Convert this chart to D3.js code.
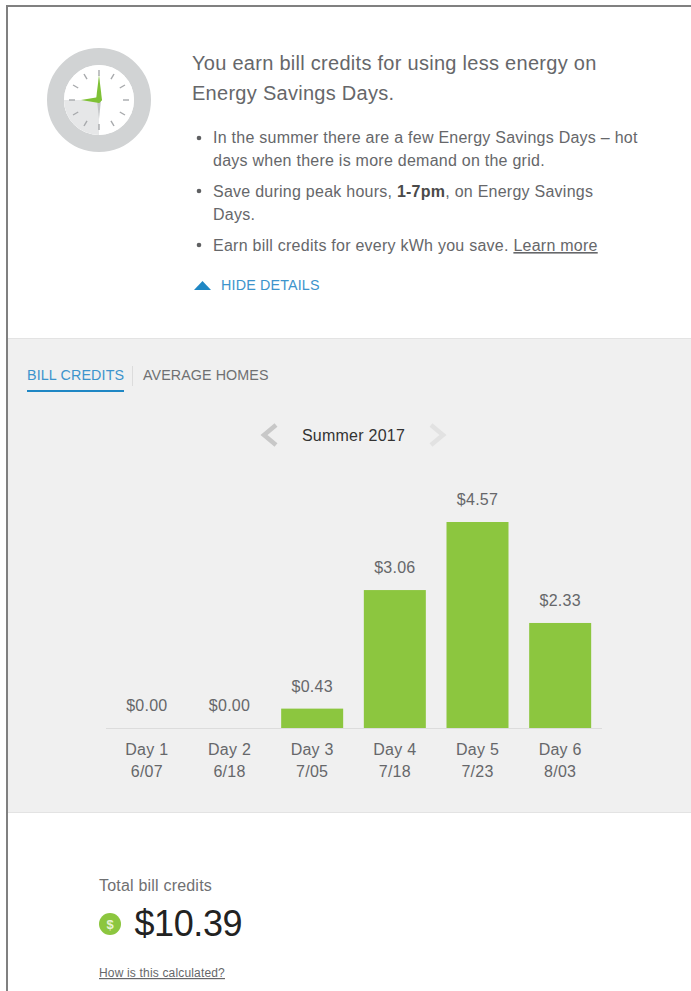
<!DOCTYPE html>
<html><head><meta charset="utf-8">
<script src="https://cdn.jsdelivr.net/npm/d3@7"></script>
<style>
html,body{margin:0;padding:0;background:#fff;overflow:hidden}
svg{display:block;font-family:"Liberation Sans",Arial,sans-serif}
</style></head><body><svg id="c" width="691" height="991"></svg>
<script>
const dayLabels=["Day 1","Day 2","Day 3","Day 4","Day 5","Day 6"];
const dates=["6/07","6/18","7/05","7/18","7/23","8/03"];
const credits=[0,0,0.43,3.06,4.57,2.33];
const total="$10.39";
const ink="#66676a";
const svg=d3.select("#c");
const txt=(x,y,s,size,fill,anchor,ls)=>svg.append("text").attr("x",x).attr("y",y).attr("font-size",size).attr("fill",fill).attr("text-anchor",anchor||"start").attr("letter-spacing",ls===undefined?0.25:ls).text(s);

svg.append("rect").attr("x",0).attr("y",0).attr("width",691).attr("height",991).attr("fill","#fff");
svg.append("rect").attr("x",8).attr("y",339).attr("width",683).attr("height",473).attr("fill","#f0f0f0");
svg.append("line").attr("x1",8).attr("x2",691).attr("y1",338.5).attr("y2",338.5).attr("stroke","#e3e3e3");
svg.append("line").attr("x1",8).attr("x2",691).attr("y1",812.5).attr("y2",812.5).attr("stroke","#e3e3e3");
svg.append("path").attr("d","M7 991V6H691").attr("fill","none").attr("stroke","#808080").attr("stroke-width",2);

// clock
const clock=svg.append("g").attr("transform","translate(99,100)");
clock.append("circle").attr("r",43.5).attr("fill","none").attr("stroke","#d1d3d4").attr("stroke-width",17);
clock.append("circle").attr("r",35).attr("fill","#fff");
clock.append("path").attr("d",d3.arc()({innerRadius:0,outerRadius:35,startAngle:Math.PI,endAngle:1.5*Math.PI})).attr("fill","#e6e7e8");
clock.selectAll("line").data(d3.range(12)).join("line")
 .attr("x1",d=>Math.sin(d*Math.PI/6)*24).attr("y1",d=>-Math.cos(d*Math.PI/6)*24)
 .attr("x2",d=>Math.sin(d*Math.PI/6)*30).attr("y2",d=>-Math.cos(d*Math.PI/6)*30)
 .attr("stroke","#a7a9ac").attr("stroke-width",1.4);
clock.append("path").attr("d","M-2 0L0 19L2 0Z").attr("fill","#c4c6c8");
clock.append("path").attr("d","M0 -25L3 0L0 3L-3 0Z").attr("fill","#7fc136");
clock.append("path").attr("d","M-18 0L0 -3L3 0L0 3Z").attr("fill","#7fc136");

// header copy
txt(192,70,"You earn bill credits for using less energy on",20,ink,"start",0.28);
txt(192,100,"Energy Savings Days.",20,ink,"start",0.28);
const bullets=[138,191,245];
svg.selectAll("circle.b").data(bullets).join("circle").attr("class","b").attr("cx",199).attr("cy",d=>d).attr("r",2.3).attr("fill","#5f6062");
txt(213,143,"In the summer there are a few Energy Savings Days – hot",16,ink);
txt(213,166,"days when there is more demand on the grid.",16,ink);
const save=txt(213,197,"Save during peak hours, ",16,ink);
save.append("tspan").attr("font-weight","bold").attr("fill","#4a4a4a").text("1-7pm");
save.append("tspan").text(", on Energy Savings");
txt(213,220,"Days.",16,ink);
const earn=txt(213,251,"Earn bill credits for every kWh you save. ",16,ink);
earn.append("tspan").attr("text-decoration","underline").text("Learn more");
svg.append("path").attr("d","M194 290L202.5 281L211 290Z").attr("fill","#1f87c4");
txt(221,290,"HIDE DETAILS",14.3,"#3d94cc","start",0.17);

// tabs
txt(27,380,"BILL CREDITS",14.3,"#3d94cc","start",0.13);
txt(143,380,"AVERAGE HOMES",14.3,"#6f7072","start",0.08);
svg.append("line").attr("x1",27).attr("x2",124).attr("y1",391).attr("y2",391).attr("stroke","#1f87c4").attr("stroke-width",2);
svg.append("line").attr("x1",132.5).attr("x2",132.5).attr("y1",366).attr("y2",386).attr("stroke","#dcdcdc");
// period nav
svg.append("path").attr("d","M276 425L264 435L276 445").attr("fill","none").attr("stroke","#c8c8c8").attr("stroke-width",4.5);
svg.append("path").attr("d","M431 425L443 435L431 445").attr("fill","none").attr("stroke","#e2e2e2").attr("stroke-width",4.5);
txt(353.5,441,"Summer 2017",16,"#333","middle");

// chart
const x=d3.scaleBand().domain(dayLabels).range([105.5,601.5]).paddingInner(0.25).paddingOuter(0.125);
const y=d3.scaleLinear().domain([0,4.57]).range([728,522]);
svg.append("g").selectAll("rect").data(credits).join("rect")
 .attr("x",(d,i)=>x(dayLabels[i])).attr("width",x.bandwidth())
 .attr("y",d=>y(d)).attr("height",d=>y(0)-y(d)).attr("fill","#8cc63f");
svg.append("g").selectAll("text").data(credits).join("text")
 .attr("x",(d,i)=>x(dayLabels[i])+x.bandwidth()/2).attr("y",d=>y(d)-17)
 .attr("text-anchor","middle").attr("font-size",16).attr("letter-spacing",0.25).attr("fill",ink)
 .text(d=>"$"+d.toFixed(2));
const ax=svg.append("g").attr("transform","translate(0,728)").call(d3.axisBottom(x).tickSize(0).tickPadding(0));
ax.select(".domain").attr("stroke","#dcdcdc").attr("d","M106,0.5H602");
ax.selectAll(".tick text").each(function(d,i){
  const t=d3.select(this).text(null).attr("y",0).attr("dy",null).attr("font-size",16).attr("letter-spacing",0.25).attr("fill",ink).attr("font-family",'"Liberation Sans",Arial,sans-serif');
  t.append("tspan").attr("x",0).attr("y",27).text(d);
  t.append("tspan").attr("x",0).attr("y",49).text(dates[i]);
});

// total
txt(99,891,"Total bill credits",16,"#6f7072","start",0.2);
svg.append("circle").attr("cx",110).attr("cy",924).attr("r",11).attr("fill","#8cc63f");
txt(110,929,"$",13,"#e8f3d6","middle",0).attr("font-weight","bold");
txt(134.5,936,total,36,"#222","start",-0.4);
txt(99,977,"How is this calculated?",12,ink,"start",0.17).attr("text-decoration","underline");
</script></body></html>
